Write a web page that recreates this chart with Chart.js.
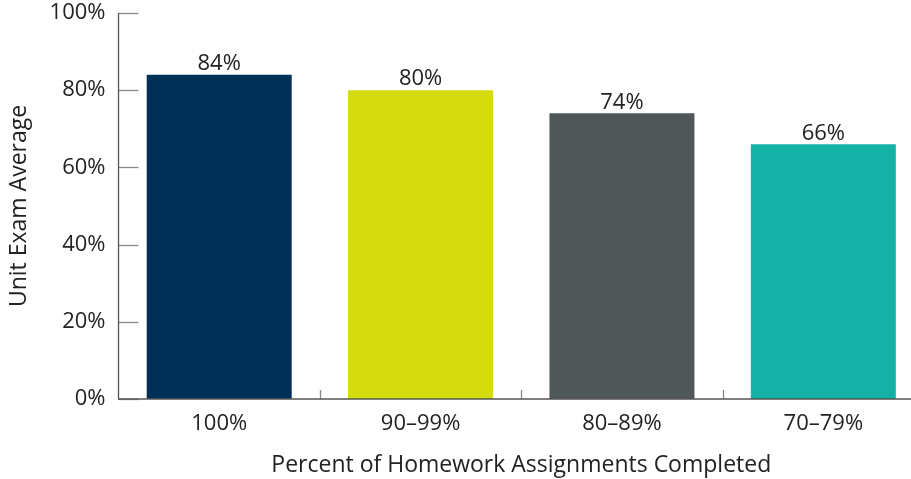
<!DOCTYPE html>
<html>
<head>
<meta charset="utf-8">
<script src="https://cdn.jsdelivr.net/npm/chart.js@4"></script>
<style>
  html, body { margin: 0; padding: 0; background: #fff; overflow: hidden; }
  #wrap { width: 924px; height: 479px; }
</style>
</head>
<body>
<div id="wrap"><canvas id="examChart"></canvas></div>
<script>
const categories = ["100%", "90–99%", "80–89%", "70–79%"];
const examAverages = [84, 80, 74, 66];
const barColors = ["#003057", "#d4dc0f", "#505759", "#14b1a7"];
const yTicks = [0, 20, 40, 60, 80, 100];

const FONT = "'Open Sans', 'Noto Sans', sans-serif";

// draws inward ticks on y axis, boundary ticks on x axis and the value labels
const axisExtras = {
  id: "axisExtras",
  afterDatasetsDraw(chart) {
    const ctx = chart.ctx;
    const x = chart.scales.x;
    const y = chart.scales.y;
    const area = chart.chartArea;
    ctx.save();
    ctx.strokeStyle = "#888";
    ctx.lineWidth = 1.3;
    yTicks.forEach(v => {
      const py = Math.round(y.getPixelForValue(v)) + 0.5;
      ctx.beginPath();
      ctx.moveTo(area.left, py);
      ctx.lineTo(area.left + 20, py);
      ctx.stroke();
    });
    for (let i = 1; i < categories.length; i++) {
      const px = Math.round((x.getPixelForValue(i - 1) + x.getPixelForValue(i)) / 2) + 0.5;
      ctx.beginPath();
      ctx.moveTo(px, area.bottom);
      ctx.lineTo(px, area.bottom - 9);
      ctx.stroke();
    }
    // axis lines
    ctx.strokeStyle = "#555";
    ctx.lineWidth = 1.3;
    ctx.beginPath();
    ctx.moveTo(area.left, area.top);
    ctx.lineTo(area.left, area.bottom);
    ctx.lineTo(area.right, area.bottom);
    ctx.stroke();

    // value labels
    ctx.fillStyle = "#222";
    ctx.font = "22px " + FONT;
    ctx.textAlign = "center";
    ctx.textBaseline = "bottom";
    const meta = chart.getDatasetMeta(0);
    meta.data.forEach((bar, i) => {
      ctx.fillText(examAverages[i] + "%", bar.x, bar.y);
    });
    ctx.restore();
  }
};

new Chart(document.getElementById("examChart"), {
  type: "bar",
  data: {
    labels: categories,
    datasets: [{
      data: examAverages,
      backgroundColor: barColors,
      borderWidth: 0,
      categoryPercentage: 1,
      barPercentage: 0.72
    }]
  },
  options: {
    responsive: true,
    maintainAspectRatio: false,
    animation: false,
    layout: { padding: { top: 13, right: 0, left: 6, bottom: 0 } },
    plugins: {
      legend: { display: false },
      tooltip: { enabled: false }
    },
    scales: {
      x: {
        grid: { display: false, drawTicks: false },
        border: { display: false },
        ticks: {
          color: "#222",
          font: { family: FONT, size: 22 },
          padding: 12
        },
        title: {
          display: true,
          text: "Percent of Homework Assignments Completed",
          color: "#222",
          font: { family: FONT, size: 23 },
          padding: { top: 2, bottom: 0 }
        }
      },
      y: {
        min: 0,
        max: 100,
        grid: { display: false, drawTicks: false },
        border: { display: false },
        afterBuildTicks: axis => {
          axis.ticks = yTicks.map(v => ({ value: v }));
        },
        afterFit: axis => {
          axis.paddingTop = 0;
          axis.paddingBottom = 0;
        },
        ticks: {
          color: "#222",
          font: { family: FONT, size: 22 },
          padding: 13,
          callback: v => v + "%"
        },
        title: {
          display: true,
          text: "Unit Exam Average",
          color: "#222",
          font: { family: FONT, size: 23 },
          padding: { top: 0, bottom: 3 }
        }
      }
    }
  },
  plugins: [axisExtras]
});
</script>
</body>
</html>
